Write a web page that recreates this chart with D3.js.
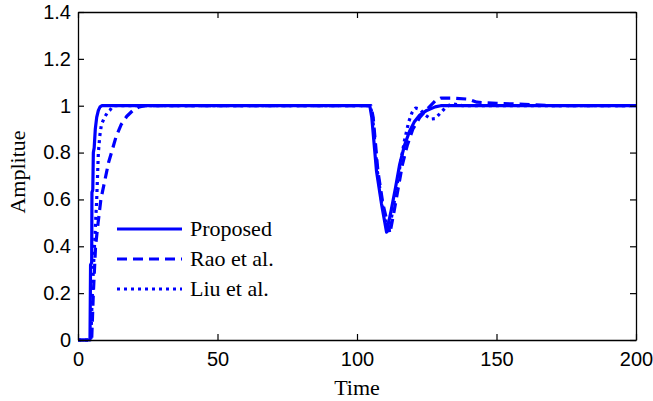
<!DOCTYPE html>
<html>
<head>
<meta charset="utf-8">
<script src="https://cdn.jsdelivr.net/npm/d3@7"></script>
<style>
  html, body { margin: 0; padding: 0; background: #fff; }
  svg { display: block; }
  .tick text { font-family: "Liberation Sans", Arial, sans-serif; font-size: 20px; fill: #000; }
  .axis-title, .legend text { font-family: "Liberation Serif", "Times New Roman", serif; font-size: 22px; fill: #000; }
</style>
</head>
<body>
<svg id="chart" width="653" height="401"></svg>
<script>
// Axis ticks and their labels
const xTicks = [0, 50, 100, 150, 200];
const xTickLabels = ["0", "50", "100", "150", "200"];
const yTicks = [0, 0.2, 0.4, 0.6, 0.8, 1, 1.2, 1.4];
const yTickLabels = ["0", "0.2", "0.4", "0.6", "0.8", "1", "1.2", "1.4"];

// Series names
const seriesNames = ["Proposed", "Rao et al.", "Liu et al."];

// Proposed controller response
const proposedTime = [0, 4.3, 4.5, 4.9, 5.0, 5.3, 5.5, 5.8, 6.2, 6.7, 7.3, 7.9, 8.6, 9.5,
  104.6, 105.3, 107, 108.8, 110.6, 112.2, 113.8, 115.3, 117, 118.8, 120.5, 122.5, 125, 128, 130, 200];
const proposedValue = [0, 0, 0.32, 0.33, 0.63, 0.64, 0.80, 0.82, 0.90, 0.95, 0.98, 0.995, 1, 1,
  1, 0.95, 0.72, 0.58, 0.46, 0.55, 0.65, 0.75, 0.83, 0.89, 0.93, 0.96, 0.98, 0.995, 1, 1];

// Rao et al. response
const raoTime = [0, 4.9, 5.2, 5.5, 6.3, 7.2, 8.2, 9.6, 11, 12, 13.7, 15.5, 17.5, 19.7, 22, 24,
  105, 105.8, 107.5, 109.3, 111.8, 113.3, 114.8, 116.3, 118, 120, 122.5, 125.5, 128, 130, 135, 140, 143, 150, 160, 170, 200];
const raoValue = [0, 0, 0.1, 0.2, 0.4, 0.5, 0.6, 0.68, 0.76, 0.8, 0.87, 0.92, 0.955, 0.98, 0.995, 1,
  1, 0.95, 0.72, 0.58, 0.455, 0.55, 0.65, 0.75, 0.83, 0.9, 0.95, 0.99, 1.02, 1.032, 1.032, 1.028, 1.015, 1.01, 1.006, 1, 1];

// Liu et al. response
const liuTime = [0, 4.6, 5.0, 5.5, 5.9, 6.3, 6.7, 7.3, 7.8, 8.4, 9.5, 10.5, 11.4, 12.3, 13,
  104.8, 105.6, 107.3, 109, 111.3, 112.8, 114.2, 115.5, 117, 118.5, 119.7, 121, 122.5, 124.5, 126.5, 128, 130, 132, 134, 138, 200];
const liuValue = [0, 0, 0.15, 0.3, 0.4, 0.5, 0.6, 0.8, 0.87, 0.92, 0.95, 0.97, 0.98, 0.995, 1,
  1, 0.95, 0.72, 0.58, 0.46, 0.55, 0.65, 0.75, 0.85, 0.93, 0.97, 0.99, 0.985, 0.96, 0.943, 0.945, 0.97, 0.995, 1.008, 1, 1];

const seriesTime = [proposedTime, raoTime, liuTime];
const seriesValue = [proposedValue, raoValue, liuValue];
const seriesDash = [null, "10,6", "3,4"];

const W = 653, H = 401;
const margin = { top: 12, right: 17, bottom: 61, left: 78 };
const iw = W - margin.left - margin.right;
const ih = H - margin.top - margin.bottom;

const svg = d3.select("#chart");
const g = svg.append("g").attr("transform", `translate(${margin.left},${margin.top})`);

const x = d3.scaleLinear().domain([0, 200]).range([0, iw]);
const y = d3.scaleLinear().domain([0, 1.4]).range([ih, 0]);

const tick = 6;

// Curves
const line = d3.line().x(d => x(d[0])).y(d => y(d[1]));
const curves = g.append("g").attr("clip-path", null);
seriesNames.forEach((name, i) => {
  const pts = seriesTime[i].map((t, j) => [t, seriesValue[i][j]]);
  curves.append("path")
    .datum(pts)
    .attr("d", line)
    .attr("fill", "none")
    .attr("stroke", "#0000ff")
    .attr("stroke-width", 3.2)
    .attr("stroke-linejoin", "round")
    .attr("stroke-dasharray", seriesDash[i]);
});

// Axes with inward ticks on all four sides
function styleAxis(sel) {
  sel.selectAll(".domain").attr("stroke", "#000").attr("stroke-width", 1.3);
  sel.selectAll(".tick line").attr("stroke", "#000").attr("stroke-width", 1.2);
}

g.append("g").attr("transform", `translate(0,${ih})`)
  .call(d3.axisBottom(x).tickValues(xTicks).tickFormat((d, i) => xTickLabels[i])
    .tickSizeInner(-tick).tickSizeOuter(0).tickPadding(12))
  .call(styleAxis)
  .call(a => a.selectAll("text").attr("font-family", null).attr("font-size", null));

g.append("g")
  .call(d3.axisTop(x).tickValues(xTicks).tickFormat("")
    .tickSizeInner(-tick).tickSizeOuter(0))
  .call(styleAxis);

g.append("g")
  .call(d3.axisLeft(y).tickValues(yTicks).tickFormat((d, i) => yTickLabels[i])
    .tickSizeInner(-tick).tickSizeOuter(0).tickPadding(7))
  .call(styleAxis)
  .call(a => a.selectAll("text").attr("font-family", null).attr("font-size", null));

g.append("g").attr("transform", `translate(${iw},0)`)
  .call(d3.axisRight(y).tickValues(yTicks).tickFormat("")
    .tickSizeInner(-tick).tickSizeOuter(0))
  .call(styleAxis);

svg.selectAll(".axis-none").remove();
svg.selectAll("g").attr("font-family", null).attr("font-size", null);

// Axis titles
svg.append("text").attr("class", "axis-title")
  .attr("x", margin.left + iw / 2).attr("y", 395)
  .attr("text-anchor", "middle").text("Time");

svg.append("text").attr("class", "axis-title")
  .attr("transform", `translate(25,${margin.top + ih / 2 - 4}) rotate(-90)`)
  .attr("text-anchor", "middle").text("Amplitue");

// Legend
const legend = g.append("g").attr("class", "legend").attr("transform", "translate(39,217)");
seriesNames.forEach((name, i) => {
  const row = legend.append("g").attr("transform", `translate(0,${i * 30})`);
  row.append("line")
    .attr("x1", 0).attr("x2", 65).attr("y1", 0).attr("y2", 0)
    .attr("stroke", "#0000ff").attr("stroke-width", 3.2)
    .attr("stroke-dasharray", seriesDash[i]);
  row.append("text").attr("x", 73).attr("y", 7).text(name);
});
</script>
</body>
</html>
